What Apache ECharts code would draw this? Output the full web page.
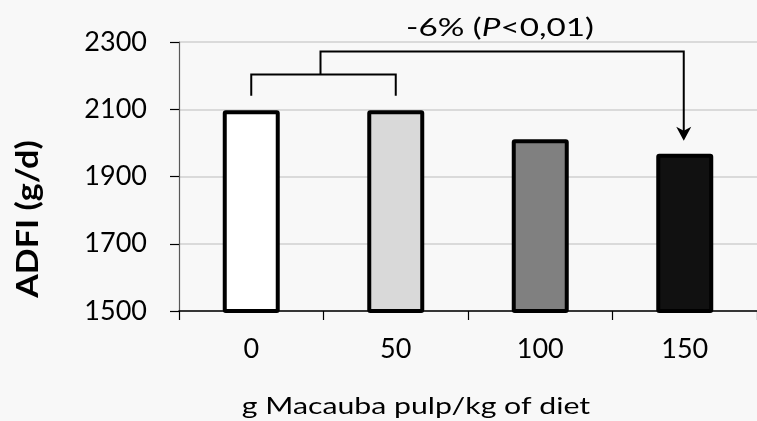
<!DOCTYPE html>
<html>
<head>
<meta charset="utf-8">
<script src="https://cdn.jsdelivr.net/npm/echarts@6/dist/echarts.min.js"></script>
<style>
html,body{margin:0;padding:0;background:#f8f8f8;}
#c{width:757px;height:421px;}
</style>
</head>
<body>
<div id="c"></div>
<script>
// ---- data ----
const categories = ['0', '50', '100', '150'];
const adfiValues = [2097, 2097, 2011, 1968];
const barColors = ['#ffffff', '#d9d9d9', '#808080', '#111111'];
const yMin = 1500, yMax = 2300, yInterval = 200;
const xAxisTitle = 'g Macauba pulp/kg of diet';
const yAxisTitle = 'ADFI (g/d)';
const noteParts = ['-6% (', 'P', '<0,01)'];
// bracket levels (in data units of the y axis)
const bracketLegBottom = 2140, bracketTop = 2203, bracketStemTop = 2272;

const FONT = 'Lato';
const chart = echarts.init(document.getElementById('c'), null, {renderer: 'canvas'});

const option = {
  backgroundColor: '#f8f8f8',
  animation: false,
  grid: {left: 179, right: 0, top: 42, bottom: 110, containLabel: false},
  xAxis: {
    type: 'category',
    data: categories,
    axisLine: {show: true, lineStyle: {color: '#000', width: 1.5}},
    axisTick: {show: true, length: 9, lineStyle: {color: '#000', width: 1.2}},
    axisLabel: {color: '#000', fontFamily: FONT, fontSize: 27, margin: 25},
    splitLine: {show: false}
  },
  yAxis: {
    type: 'value',
    min: yMin, max: yMax, interval: yInterval,
    axisLine: {show: true, lineStyle: {color: '#595959', width: 1.2}},
    axisTick: {show: true, length: 9, lineStyle: {color: '#000', width: 1.2}},
    axisLabel: {color: '#000', fontFamily: FONT, fontSize: 27, margin: 32, formatter: v => String(v)},
    splitLine: {show: true, lineStyle: {color: '#d0d0d0', width: 1.5}}
  },
  series: [{
    type: 'bar',
    barWidth: 57,
    data: adfiValues.map((v, i) => ({
      value: v,
      itemStyle: {color: barColors[i], borderColor: '#000', borderWidth: 4, borderRadius: 1}
    }))
  }]
};
chart.setOption(option);

function px(ci, v) { return chart.convertToPixel({seriesIndex: 0}, [ci, v]); }
const p0 = px(0, bracketLegBottom), p1 = px(1, bracketLegBottom);
const yTop = px(0, bracketTop)[1], yStem = px(0, bracketStemTop)[1];
const stemX = (p0[0] + p1[0]) / 2 - 3;
const last = adfiValues.length - 1;
const pb = px(last, adfiValues[last]);
const tipY = pb[1] - 13;
const ax = pb[0] - 1;

chart.setOption({
  graphic: [
    {type: 'polyline', shape: {points: [[p0[0], p0[1]], [p0[0], yTop], [p1[0], yTop], [p1[0], p1[1]]]},
     style: {stroke: '#000', lineWidth: 2, fill: null}},
    {type: 'polyline', shape: {points: [[stemX, yTop], [stemX, yStem], [ax, yStem], [ax, tipY - 4]]},
     style: {stroke: '#000', lineWidth: 2, fill: null}},
    {type: 'polygon', shape: {points: [[ax, tipY], [ax - 7.5, tipY - 14], [ax, tipY - 10], [ax + 7.5, tipY - 14]]},
     style: {fill: '#000'}},
    {type: 'text', x: 500, y: 28, scaleX: 1.33,
     style: {text: '{n|' + noteParts[0] + '}{i|' + noteParts[1] + '}{n|' + noteParts[2] + '}',
       align: 'center', verticalAlign: 'middle',
       rich: {n: {fontFamily: FONT, fontSize: 25, fill: '#000'},
              i: {fontFamily: FONT, fontSize: 25, fontStyle: 'italic', fill: '#000'}}}},
    {type: 'text', x: 416, y: 406, scaleX: 1.26,
     style: {text: xAxisTitle, align: 'center', verticalAlign: 'middle', fontFamily: FONT, fontSize: 24, fill: '#000'}},
    {type: 'text', x: 28, y: 219, rotation: Math.PI / 2, scaleX: 1.1,
     style: {text: yAxisTitle, align: 'center', verticalAlign: 'middle', fontFamily: FONT, fontSize: 31, fontWeight: 'bold', fill: '#000'}}
  ]
});
</script>
</body>
</html>
